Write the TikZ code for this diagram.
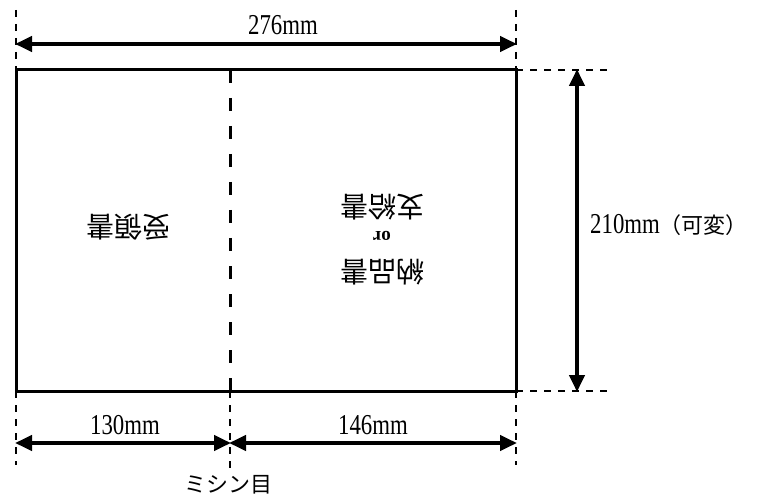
\documentclass[tikz,border=0pt]{standalone}
\usepackage{fontspec}
\setmainfont{Liberation Serif}
\newfontfamily\jp{Noto Sans CJK JP}
\usetikzlibrary{arrows.meta}
\newcommand{\tallt}[1]{\scalebox{0.95}[1.2]{#1}}
\tikzset{
  outline/.style={line width=3pt},
  perf/.style={line width=3pt, dash pattern=on 13pt off 15pt},
  ext/.style={line width=1.5pt, dash pattern=on 7pt off 7pt},
  dim/.style={line width=4pt, {Triangle[length=17pt,width=15pt]}-{Triangle[length=17pt,width=15pt]}, shorten <=-1pt, shorten >=-1pt},
  lbl/.style={inner sep=0pt, font=\fontsize{24}{26}\selectfont},
  jlbl/.style={inner sep=0pt, font=\jp\fontsize{22}{24}\selectfont},
  upside/.style={inner sep=0pt, rotate=180, font=\jp\fontsize{28}{30}\selectfont},
}
\begin{document}
\begin{tikzpicture}[x=1pt,y=-1pt]
\useasboundingbox (0,0) rectangle (763,497);
% corners
\coordinate (tl) at (16,70);
\coordinate (tr) at (516,70);
\coordinate (bl) at (16,391);
\coordinate (br) at (516,391);
\coordinate (mt) at (230,70);
\coordinate (mb) at (230,391);
% extension ends
\coordinate (tlx) at (16,10);
\coordinate (trx) at (516,10);
\coordinate (blx) at (16,465);
\coordinate (brx) at (516,465);
\coordinate (mbx) at (230,470);
\coordinate (trr) at (610,70);
\coordinate (brr) at (610,391);
% dimension ends
\coordinate (a1) at (16,44);
\coordinate (a2) at (516,44);
\coordinate (v1) at (577,70);
\coordinate (v2) at (577,391);
\coordinate (b1) at (16,443);
\coordinate (b2) at (230,443);
\coordinate (b3) at (516,443);

% sheet
\draw[outline] (tl) rectangle (br);
\draw[perf] (mt) -- (mb);

% extension lines
\draw[ext] (tlx) -- (tl);
\draw[ext] (trx) -- (tr);
\draw[ext] (bl) -- (blx);
\draw[ext] (br) -- (brx);
\draw[ext] (mb) -- (mbx);
\draw[ext] (tr) -- (trr);
\draw[ext] (br) -- (brr);

% dimension arrows
\draw[dim] (a1) -- (a2);
\draw[dim] (v1) -- (v2);
\draw[dim] (b1) -- (b2);
\draw[dim] (b2) -- (b3);

% labels
\node[lbl] (w) at (283,25) {\tallt{276mm}};
\node[lbl,anchor=west] (h) at (590,225) {\tallt{210mm}\jp\fontsize{22}{24}\selectfont（可変）};
\node[lbl] (l1) at (125,425) {\tallt{130mm}};
\node[lbl] (l2) at (373,425) {\tallt{146mm}};
\node[jlbl] (perfl) at (228,485) {ミシン目};

% upside-down texts
\node[upside] (recv) at (128,227) {受領書};
\node[upside] (t1) at (382,207) {支給書};
\node[upside, font=\bfseries\fontsize{19}{21}\selectfont] (t2) at (382,236) {or};
\node[upside] (t3) at (382,272) {納品書};
\end{tikzpicture}
\end{document}
